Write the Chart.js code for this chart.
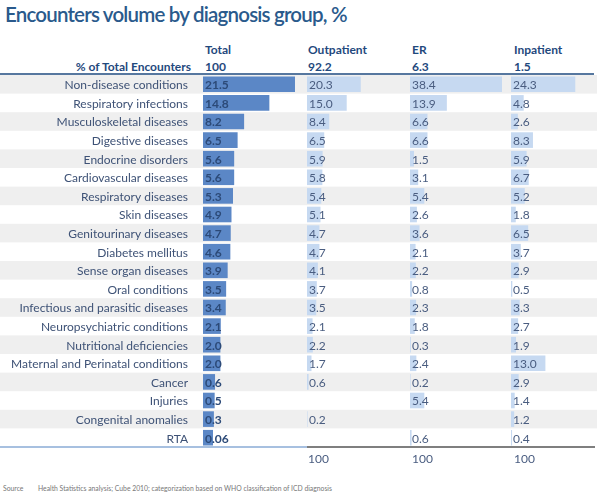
<!DOCTYPE html>
<html>
<head>
<meta charset="utf-8">
<script src="https://cdn.jsdelivr.net/npm/chart.js@4.4.0/dist/chart.umd.min.js"></script>
<style>
    body { margin: 0; background: #fff; font-family: Lato, 'Open Sans', sans-serif; }
    #page { position: relative; width: 600px; height: 495px; overflow: hidden; }
    .abs { position: absolute; white-space: nowrap; }
    .title { left: 5px; top: 2px; font-size: 20.5px; color: #2a5a8c; font-weight: 600; letter-spacing: -0.8px; }
    .head { font-size: 12px; font-weight: bold; color: #1f497d; }
    .foot { font-size: 12px; color: #4a5d80; }
    .src { font-size: 6.8px; color: #777; }
    canvas { position: absolute; top: 75px; }
</style>
</head>
<body>
<div id="page">
    <div class="abs title">Encounters volume by diagnosis group, %</div>

    <div class="abs head" style="left:205px; top:42px;">Total</div>
    <div class="abs head" style="left:308px; top:42px;">Outpatient</div>
    <div class="abs head" style="left:412px; top:42px;">ER</div>
    <div class="abs head" style="left:514px; top:42px;">Inpatient</div>

    <div class="abs head" style="right:409px; top:59px;">% of Total Encounters</div>
    <div class="abs head" style="left:205px; top:59px;" id="shareTotal"></div>
    <div class="abs head" style="left:308px; top:59px;" id="shareOut"></div>
    <div class="abs head" style="left:412px; top:59px;" id="shareEr"></div>
    <div class="abs head" style="left:514px; top:59px;" id="shareIn"></div>

    <div class="abs" style="left:0; top:73px; width:594px; height:2px; background:#56779f;"></div>

    <canvas id="chartTotal" width="307" height="372" style="left:0;"></canvas>
    <canvas id="chartOut" width="103" height="372" style="left:307px;"></canvas>
    <canvas id="chartEr" width="101" height="372" style="left:410px;"></canvas>
    <canvas id="chartIn" width="89" height="372" style="left:511px;"></canvas>

    <div class="abs" style="left:0; top:446px; width:307px; height:2px; background:#a7c0e0;"></div>
    <div class="abs" style="left:307px; top:446px; width:288px; height:2px; background:#7f7f7f;"></div>

    <div class="abs foot" style="left:308px; top:451px;">100</div>
    <div class="abs foot" style="left:412px; top:451px;">100</div>
    <div class="abs foot" style="left:514px; top:451px;">100</div>

    <div class="abs src" style="left:3px; top:484px;">Source</div>
    <div class="abs src" style="left:38px; top:484px;">Health Statistics analysis; Cube 2010; categorization based on WHO classification of ICD diagnosis</div>
</div>

<script>
// Diagnosis groups (rows)
const groups = [
    'Non-disease conditions', 'Respiratory infections', 'Musculoskeletal diseases', 'Digestive diseases',
    'Endocrine disorders', 'Cardiovascular diseases', 'Respiratory diseases', 'Skin diseases',
    'Genitourinary diseases', 'Diabetes mellitus', 'Sense organ diseases', 'Oral conditions',
    'Infectious and parasitic diseases', 'Neuropsychiatric conditions', 'Nutritional deficiencies',
    'Maternal and Perinatal conditions', 'Cancer', 'Injuries', 'Congenital anomalies', 'RTA'
];

// Share of each encounter type in total, %
const encounterShare = ['100', '92.2', '6.3', '1.5'];

// % of encounters per group
const totalValues = [21.5, 14.8, 8.2, 6.5, 5.6, 5.6, 5.3, 4.9, 4.7, 4.6, 3.9, 3.5, 3.4, 2.1, 2.0, 2.0, 0.6, 0.5, 0.3, 0.06];
const outpatientValues = [20.3, 15.0, 8.4, 6.5, 5.9, 5.8, 5.4, 5.1, 4.7, 4.7, 4.1, 3.7, 3.5, 2.1, 2.2, 1.7, 0.6, null, 0.2, null];
const erValues = [38.4, 13.9, 6.6, 6.6, 1.5, 3.1, 5.4, 2.6, 3.6, 2.1, 2.2, 0.8, 2.3, 1.8, 0.3, 2.4, 0.2, 5.4, null, 0.6];
const inpatientValues = [24.3, 4.8, 2.6, 8.3, 5.9, 6.7, 5.2, 1.8, 6.5, 3.7, 2.9, 0.5, 3.3, 2.7, 1.9, 13.0, 2.9, 1.4, 1.2, 0.4];

document.getElementById('shareTotal').textContent = encounterShare[0];
document.getElementById('shareOut').textContent = encounterShare[1];
document.getElementById('shareEr').textContent = encounterShare[2];
document.getElementById('shareIn').textContent = encounterShare[3];

const fmt = v => (v < 0.1 ? String(v) : v.toFixed(1));

// grey band on every other row
const stripes = {
    id: 'stripes',
    beforeDraw(chart) {
        const ctx = chart.ctx;
        const y = chart.scales.y;
        const band = y.getPixelForValue(1) - y.getPixelForValue(0);
        const right = chart.options.plugins.stripes.right;
        ctx.save();
        ctx.fillStyle = '#efefef';
        groups.forEach((g, i) => {
            if (i % 2 === 0) {
                const mid = y.getPixelForValue(i);
                ctx.fillRect(0, mid - band / 2, right, band);
            }
        });
        ctx.restore();
    }
};

// value printed at the start of each bar, plus row names for the first column
const valueLabels = {
    id: 'valueLabels',
    afterDatasetsDraw(chart) {
        const ctx = chart.ctx;
        const opts = chart.options.plugins.valueLabels;
        const meta = chart.getDatasetMeta(0);
        const data = chart.data.datasets[0].data;
        ctx.save();
        ctx.textBaseline = 'middle';
        meta.data.forEach((bar, i) => {
            if (opts.showNames) {
                ctx.font = '12px Lato';
                ctx.fillStyle = '#3e5276';
                ctx.textAlign = 'right';
                ctx.fillText(chart.data.labels[i], bar.base - 15, bar.y + 1);
            }
            if (data[i] === null) return;
            ctx.font = opts.font;
            ctx.fillStyle = opts.color;
            ctx.textAlign = 'left';
            ctx.fillText(fmt(data[i]), bar.base + 2, bar.y + 1);
        });
        ctx.restore();
    }
};

function makeColumn(canvasId, values, cfg) {
    return new Chart(document.getElementById(canvasId), {
        type: 'bar',
        data: {
            labels: groups,
            datasets: [{
                data: values,
                base: cfg.base,
                backgroundColor: cfg.color,
                borderWidth: 0,
                barPercentage: 0.84,
                categoryPercentage: 1
            }]
        },
        options: {
            indexAxis: 'y',
            responsive: false,
            animation: false,
            devicePixelRatio: 1,
            layout: { padding: { left: cfg.padLeft, right: cfg.padRight, top: 0, bottom: 0 } },
            scales: {
                x: { display: false, min: cfg.min, max: cfg.max },
                y: { display: false }
            },
            plugins: {
                legend: { display: false },
                tooltip: { enabled: false },
                stripes: { right: cfg.stripeRight },
                valueLabels: { font: cfg.font, color: cfg.textColor, showNames: cfg.showNames }
            }
        },
        plugins: [stripes, valueLabels]
    });
}

// Total column: data bars with a minimum length, like the spreadsheet
makeColumn('chartTotal', totalValues, {
    base: -2.55, min: -2.55, max: 24.64, padLeft: 203, padRight: 0, stripeRight: 307,
    color: '#5b87c6', font: 'bold 12px Lato', textColor: '#2c4a78', showNames: true
});

// Outpatient / ER / Inpatient share one value scale (about 2.65 px per %)
makeColumn('chartOut', outpatientValues, {
    base: 0, min: 0, max: 38.9, padLeft: 0, padRight: 0, stripeRight: 103,
    color: '#c6d9f1', font: '12px Lato', textColor: '#4a5d80'
});
makeColumn('chartEr', erValues, {
    base: 0, min: 0, max: 34.7, padLeft: 0, padRight: 9, stripeRight: 101,
    color: '#c6d9f1', font: '12px Lato', textColor: '#4a5d80'
});
makeColumn('chartIn', inpatientValues, {
    base: 0, min: 0, max: 32.5, padLeft: 0, padRight: 3, stripeRight: 86,
    color: '#c6d9f1', font: '12px Lato', textColor: '#4a5d80'
});
</script>
</body>
</html>
